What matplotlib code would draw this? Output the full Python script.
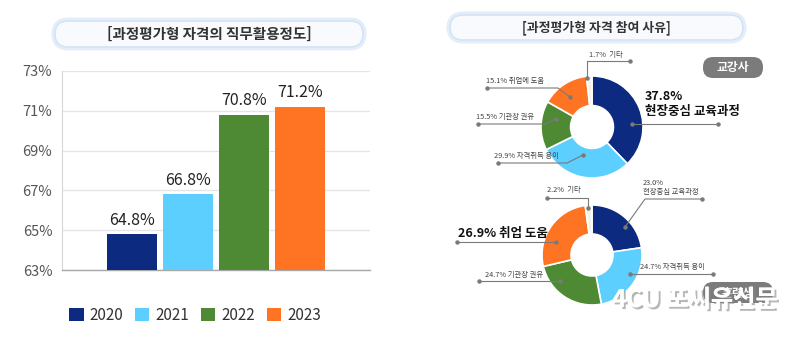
import matplotlib.pyplot as plt
import matplotlib.patheffects as pe
from matplotlib.patches import FancyBboxPatch, Patch

plt.rcParams['font.family'] = ['Noto Sans CJK KR', 'DejaVu Sans']

# 직무활용정도 (연도별)
years = ['2020', '2021', '2022', '2023']
usage = [64.8, 66.8, 70.8, 71.2]
bar_colors = ['#0b2a80', '#5ccfff', '#4e8a34', '#ff7422']
y_ticks = [63, 65, 67, 69, 71, 73]

# 참여 사유 - 교강사
reasons = ['현장중심 교육과정', '자격취득 용이', '기관장 권유', '취업에 도움', '기타']
teacher_share = [37.8, 29.9, 15.5, 15.1, 1.7]
# 참여 사유 - 훈련생
trainee_share = [23.0, 24.7, 24.7, 26.9, 2.2]
pie_colors = ['#0b2a80', '#5ccfff', '#4e8a34', '#ff7422', '#f2f2ec']

W, H = 792, 338
fig = plt.figure(figsize=(W / 100, H / 100), dpi=100)
fig.patch.set_facecolor('white')


def px_axes(x0, y0, x1, y1, **kw):
    # 픽셀 좌표(위쪽 기준)로 축 위치 지정
    return fig.add_axes([x0 / W, 1 - y1 / H, (x1 - x0) / W, (y1 - y0) / H], **kw)


# ---- 막대 그래프 ----
ax = px_axes(62, 71, 370, 270)
x = range(len(years))
bars = ax.bar(x, usage, width=0.89, color=bar_colors, zorder=3)
ax.bar_label(bars, labels=[f'{v:.1f}%' for v in usage], padding=4,
             fontsize=11.5, color='#222222', fontweight='medium')
ax.set_xlim(-1.25, 4.25)
ax.set_ylim(63, 73)
ax.set_yticks(y_ticks)
ax.set_yticklabels([f'{t}%' for t in y_ticks], fontsize=10.5, color='#555555')
ax.set_xticks([])
ax.tick_params(axis='y', length=0, pad=7)
ax.grid(axis='y', color='#e4e4e4', linewidth=0.9, zorder=0)
for side in ['top', 'right']:
    ax.spines[side].set_visible(False)
ax.spines['left'].set_color('#d8d8d8')
ax.spines['bottom'].set_color('#a8a8a8')
ax.spines['bottom'].set_linewidth(1.0)

handles = [Patch(facecolor=c, edgecolor='none', label=y) for c, y in zip(bar_colors, years)]
fig.legend(handles=handles, loc='center', bbox_to_anchor=(195 / W, 1 - 315 / H),
           ncol=4, frameon=False, fontsize=11, handlelength=0.95, handleheight=0.95,
           handletextpad=0.4, columnspacing=0.75, labelcolor='#333333')

# ---- 도넛 그래프 ----
def donut(cx, cy, r, values):
    pax = px_axes(cx - r, cy - r, cx + r, cy + r)
    pax.pie(values, colors=pie_colors, startangle=90, counterclock=False,
            wedgeprops=dict(width=0.58, edgecolor='white', linewidth=1.2))
    pax.set_xlim(-1, 1)
    pax.set_ylim(-1, 1)
    pax.axis('off')
    return pax


donut(592, 127, 51, teacher_share)
donut(592, 255, 50, trainee_share)

# ---- 제목, 라벨, 지시선 ----
ov = px_axes(0, 0, W, H, zorder=5)
ov.set_xlim(0, W)
ov.set_ylim(H, 0)
ov.axis('off')
ov.patch.set_alpha(0)


def title_box(x0, y0, x1, y1, text, size):
    glow = FancyBboxPatch((x0, y0), x1 - x0, y1 - y0,
                          boxstyle='round,pad=0,rounding_size=13',
                          facecolor='none', edgecolor='#e3eefa', linewidth=5)
    box = FancyBboxPatch((x0, y0), x1 - x0, y1 - y0,
                         boxstyle='round,pad=0,rounding_size=13',
                         facecolor='#f8fafd', edgecolor='#d4e4f5', linewidth=1.2)
    ov.add_patch(glow)
    ov.add_patch(box)
    ov.text((x0 + x1) / 2, (y0 + y1) / 2, text, ha='center', va='center',
            fontsize=size, color='#333333', fontweight='bold')


title_box(55, 21, 363, 47, '[과정평가형 자격의 직무활용정도]', 10.5)
title_box(450, 15, 743, 40, '[과정평가형 자격 참여 사유]', 9.3)


def badge(x0, y0, x1, y1, text):
    b = FancyBboxPatch((x0, y0), x1 - x0, y1 - y0,
                       boxstyle='round,pad=0,rounding_size=10',
                       facecolor='#7b7b7b', edgecolor='none')
    ov.add_patch(b)
    ov.text((x0 + x1) / 2, (y0 + y1) / 2 + 0.5, text, ha='center', va='center',
            fontsize=8.5, color='white', fontweight='bold')


badge(703, 57, 763, 78, '교강사')
badge(703, 282, 773, 303, '훈련생')


def leader(pts):
    xs, ys = zip(*pts)
    ov.plot(xs, ys, color='#7a7a7a', linewidth=0.8)
    ov.plot([xs[0], xs[-1]], [ys[0], ys[-1]], 'o', color='#7a7a7a', markersize=2.2)


small = dict(fontsize=5.3, color='#444444', va='center', ha='left')
big = dict(fontsize=9, color='#111111', va='center', ha='left', fontweight='bold')

# 교강사
leader([(587, 78), (587, 61), (630, 61)])
ov.text(589, 55, f'{teacher_share[4]}%  {reasons[4]}', **small)
leader([(570, 97), (558, 88), (487, 88)])
ov.text(486, 81, f'{teacher_share[3]}% {reasons[3]}', **small)
leader([(478, 124), (545, 124), (556, 119)])
ov.text(476, 117, f'{teacher_share[2]}% {reasons[2]}', **small)
leader([(498, 163), (567, 163), (583, 155)])
ov.text(494, 156, f'{teacher_share[1]}% {reasons[1]}', **small)
leader([(632, 124), (718, 124)])
ov.text(645, 96, f'{teacher_share[0]}%', **big)
ov.text(645, 111, reasons[0], **big)

# 훈련생
leader([(547, 198), (588, 198), (588, 208)])
ov.text(547, 190, f'{trainee_share[4]}%  {reasons[4]}', **small)
leader([(625, 227), (645, 199), (702, 199)])
ov.text(643, 183, f'{trainee_share[0]:.1f}%', **small)
ov.text(643, 192, reasons[0], **small)
leader([(457, 242), (556, 242)])
ov.text(458, 233, f'{trainee_share[3]}% 취업 도움', **big)
leader([(630, 274), (713, 274)])
ov.text(640, 267, f'{trainee_share[1]}% {reasons[1]}', **small)
leader([(479, 281), (560, 281)])
ov.text(485, 275, f'{trainee_share[2]}% {reasons[2]}', **small)

# 워터마크
ov.text(695, 300, '4CU 포씨유신문', ha='center', va='center', fontsize=17.5,
        fontweight='bold', color='white',
        path_effects=[pe.withSimplePatchShadow(offset=(1.5, -1.5), shadow_rgbFace='#888888', alpha=0.6),
                      pe.Normal()])

fig.savefig('out.png', dpi=100)
